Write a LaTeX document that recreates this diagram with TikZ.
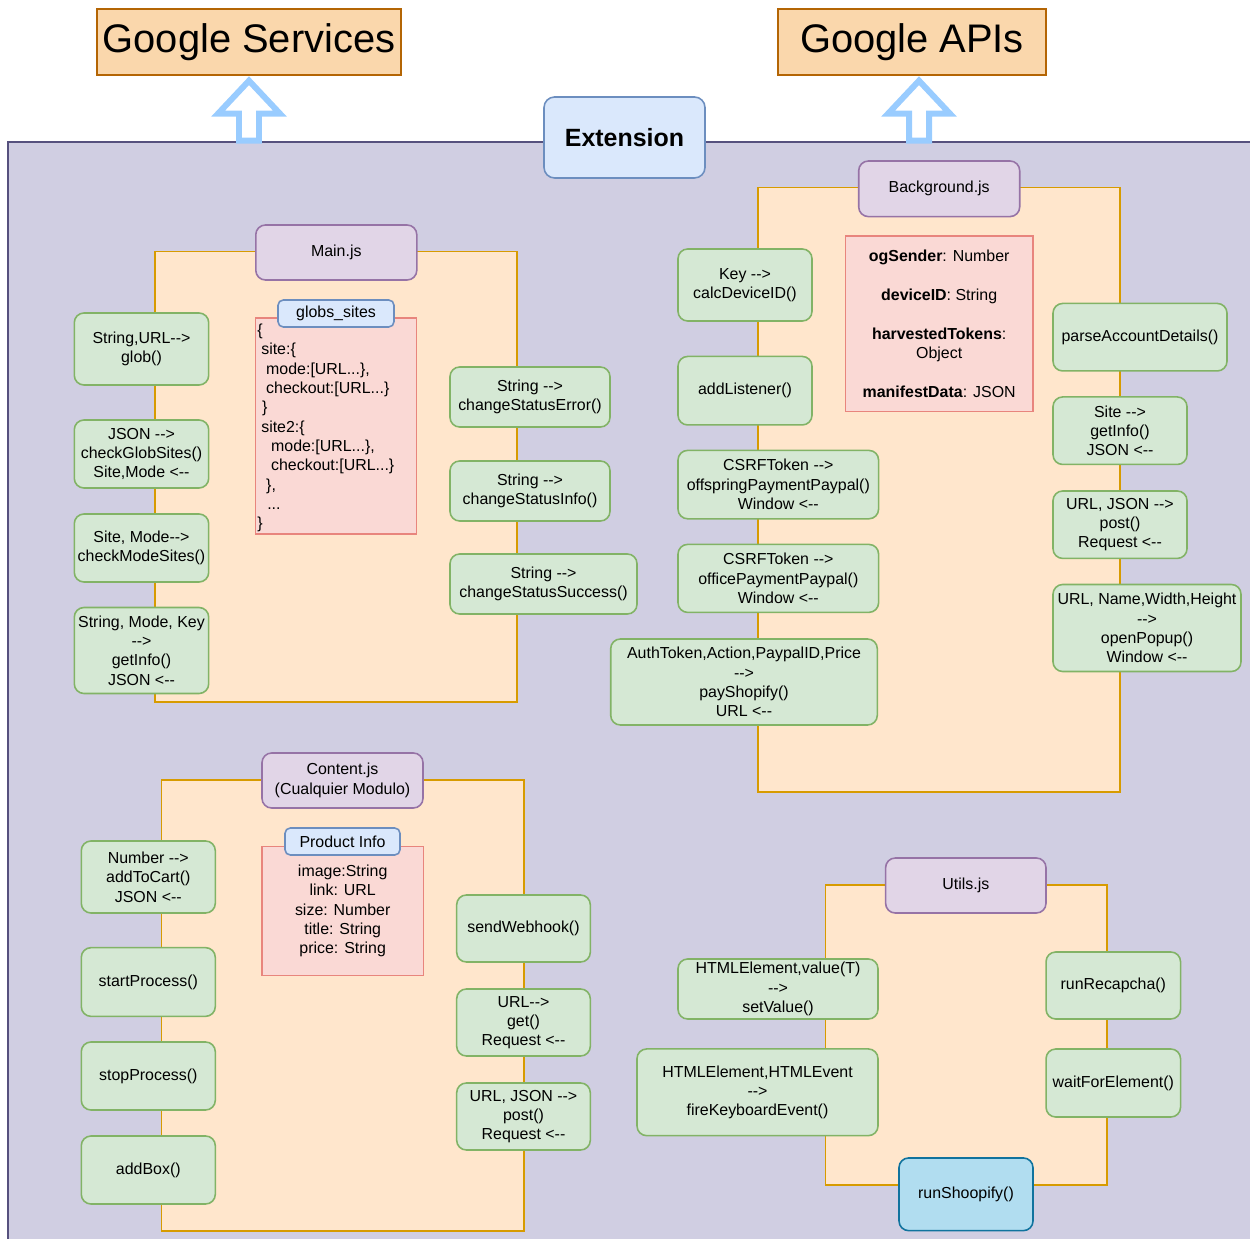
\documentclass[tikz,border=0pt]{standalone}
\usepackage{fontspec}
\setmainfont{Liberation Sans}[Ligatures=TeXOff]
\definecolor{extfill}{HTML}{D0CEE2}
\definecolor{extline}{HTML}{56517E}
\definecolor{modfill}{HTML}{FFE6CC}
\definecolor{modline}{HTML}{D79B00}
\definecolor{fnfill}{HTML}{D5E8D4}
\definecolor{fnline}{HTML}{82B366}
\definecolor{hdfill}{HTML}{E1D5E7}
\definecolor{hdline}{HTML}{9673A6}
\definecolor{datafill}{HTML}{FAD9D5}
\definecolor{dataline}{HTML}{E8857D}
\definecolor{lblfill}{HTML}{DAE8FC}
\definecolor{lblline}{HTML}{6C8EBF}
\definecolor{ttlfill}{HTML}{FAD7AC}
\definecolor{ttlline}{HTML}{B46504}
\definecolor{arrblue}{HTML}{99CCFF}
\definecolor{runfill}{HTML}{B1DDF0}
\definecolor{runline}{HTML}{10739E}
\tikzset{
  wh/.style 2 args={minimum width=#1*0.02cm, minimum height=#2*0.02cm},
  fnbox/.style={draw=fnline, fill=fnfill, line width=0.9pt, rounded corners=5.5pt, align=center, inner sep=1pt},
  headbox/.style={draw=hdline, fill=hdfill, line width=0.9pt, rounded corners=5.5pt, align=center},
  databox/.style={draw=dataline, fill=datafill, line width=0.9pt, align=center},
  lblbox/.style={draw=lblline, fill=lblfill, line width=0.9pt, rounded corners=3pt, inner sep=0pt},
  modbox/.style={draw=modline, fill=modfill, line width=0.9pt},
  titlebox/.style={draw=ttlline, fill=ttlfill, line width=0.8pt, font=\fontsize{22.7pt}{26pt}\selectfont},
  blockarr/.style={draw=arrblue, fill=white, line width=3.4pt, line join=miter}
}
\begin{document}
\begin{tikzpicture}[x=0.02cm, y=-0.02cm, every node/.style={font=\fontsize{9.07pt}{11pt}\selectfont}]
  \useasboundingbox (0,0) rectangle (1250,1239);
  % extension area
  \fill[extfill] (8,142) rectangle (1252,1241);
  \draw[extline, line width=1pt] (8,1241) -- (8,142) -- (1252,142);

  % outside services
  \node[titlebox, wh={302}{66}] (gserv) at (249,42) {Google Services};
  \node[titlebox, wh={268}{66}] (gapis) at (912,42) {Google APIs};
  \draw[blockarr] ([shift={(0,5)}]gserv.south) -- ++(31,33) -- ++(-21,0) -- ++(0,27) -- ++(-20,0) -- ++(0,-27) -- ++(-21,0) -- cycle;
  \draw[blockarr] ([shift={(7,5)}]gapis.south) -- ++(31,33) -- ++(-21,0) -- ++(0,27) -- ++(-20,0) -- ++(0,-27) -- ++(-21,0) -- cycle;
  \node[draw=lblline, fill=lblfill, line width=0.9pt, rounded corners=6pt, wh={161}{81},
        font=\fontsize{14.2pt}{17pt}\selectfont\bfseries] (ext) at (624.5,137.5) {Extension};

  % module containers
  \foreach \x/\y/\X/\Y in {155/251.7/517/702, 758/187.7/1120/792, 161.6/780/523.8/1230.7, 825.3/885/1107/1185}
    \draw[modbox] (\x,\y) rectangle (\X,\Y);

  % data boxes
  \node[databox, wh={161}{216}] (globs) at (336.2,426) {};
  \node[anchor=north west, align=left, inner sep=0pt] (globstxt) at ([shift={(2,4.5)}]globs.north west)
    {\strut\{\\\hspace*{2.3pt}site:\{\\\hspace*{5.1pt}mode:[URL...\},\\\hspace*{5.1pt}checkout:[URL...\}\\\hspace*{2.8pt}\}\\
     \hspace*{2.3pt}site2:\{\\\hspace*{7.9pt}mode:[URL...\},\\\hspace*{7.9pt}checkout:[URL...\}\\\hspace*{5.1pt}\},\\\hspace*{5.7pt}...\\\}};
  \node[lblbox, wh={116}{27}] (globslbl) at (336,313.5) {globs\_sites};
  \node[databox, wh={187.6}{175.6}] (bgdata) at (939.2,323.8)
    {\textbf{ogSender}: Number\\[11pt]\textbf{deviceID}: String\\[11pt]\textbf{harvestedTokens}:\\Object\\[11pt]\textbf{manifestData}: JSON};
  \node[databox, wh={161.3}{129}] (proddata) at (342.7,911.2) {image:String\\link: URL\\size: Number\\title: String\\price: String};
  \node[lblbox, wh={115}{27}] (prodlbl) at (342.5,841.5) {Product Info};

  % module headers
  \node[headbox, wh={161}{55}] (mainjs) at (336.3,252.5) {Main.js};
  \node[headbox, wh={161}{55.6}] (bgjs) at (939.2,188.8) {Background.js};
  \node[headbox, wh={161}{55}] (contjs) at (342.5,780.5) {Content.js\\(Cualquier Modulo)};
  \node[headbox, wh={160.4}{55}] (utilsjs) at (965.8,885.5) {Utils.js};

  % functions
  \foreach \nm/\cx/\cy/\w/\h/\txt in {
      mA/141.5/349/134.4/72/{String,URL-->\\glob()},
      mB/141.5/454/134.4/68/{JSON -->\\checkGlobSites()\\Site,Mode <--},
      mC/141.5/548/134.4/68/{Site, Mode-->\\checkModeSites()},
      mD/141.5/650.5/134.4/86/{String, Mode, Key\\-->\\getInfo()\\JSON <--},
      mE/530/397/160/60/{String -->\\changeStatusError()},
      mF/530/491/160/60/{String -->\\changeStatusInfo()},
      mG/543.5/584/187/60/{String -->\\changeStatusSuccess()},
      bA/745/285/134/72/{Key -->\\calcDeviceID()},
      bB/745/390.7/134/68.5/{addListener()},
      bC/778.3/484.6/200.6/68.4/{CSRFToken -->\\offspringPaymentPaypal()\\Window <--},
      bD/778.3/578.4/200.6/68/{CSRFToken -->\\officePaymentPaypal()\\Window <--},
      bE/744/682/266.6/86/{AuthToken,Action,PaypalID,Price\\-->\\payShopify()\\URL <--},
      bF/1140/337.2/174/67.5/{parseAccountDetails()},
      bG/1120/430.7/134/67.5/{Site -->\\getInfo()\\JSON <--},
      bH/1120/524.7/134/67.4/{URL, JSON -->\\post()\\Request <--},
      bI/1147/628/188/87/{URL, Name,Width,Height\\-->\\openPopup()\\Window <--},
      cA/148.3/877/134/72/{Number -->\\addToCart()\\JSON <--},
      cB/148.3/982/134/68.7/{startProcess()},
      cC/148.3/1076/134/68/{stopProcess()},
      cD/148.3/1170/134/68/{addBox()},
      cE/523.5/928.5/133.6/67/{sendWebhook()},
      cF/523.5/1022.5/133.6/67/{URL-->\\get()\\Request <--},
      cG/523.5/1116.5/133.6/67/{URL, JSON -->\\post()\\Request <--},
      uA/778/989/200/60/{HTMLElement,value(T)\\-->\\setValue()},
      uB/757.5/1092.3/241/86.7/{HTMLElement,HTMLEvent\\-->\\fireKeyboardEvent()},
      uC/1113.3/985.5/134.5/67/{runRecapcha()},
      uD/1113.3/1083/134.5/68/{waitForElement()}} {
    \node[fnbox, wh={\w}{\h}] (\nm) at (\cx,\cy) {\txt};
  }
  \node[fnbox, draw=runline, fill=runfill, wh={134}{72.7}] (uE) at (966,1194.3) {runShoopify()};
\end{tikzpicture}
\end{document}
